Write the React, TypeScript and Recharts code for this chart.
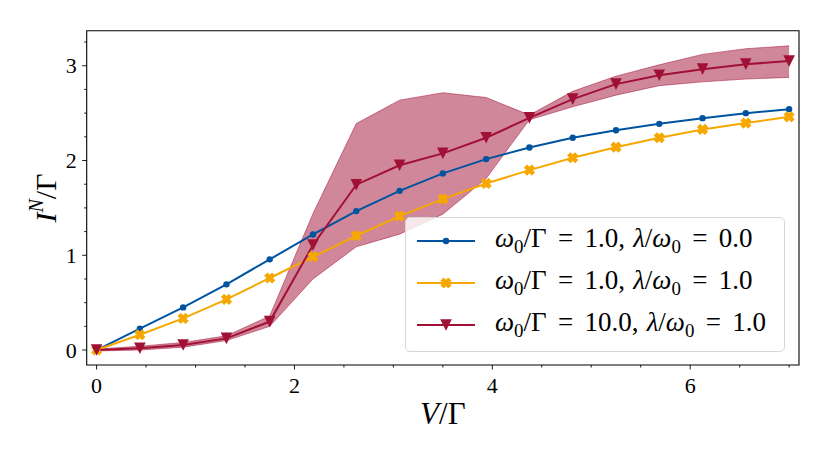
import React from 'react';
import { ComposedChart, Line, Area, XAxis, YAxis, ReferenceArea, Legend } from 'recharts';

// ---- data ----
const voltages = [0, 0.4375, 0.875, 1.3125, 1.75, 2.1875, 2.625, 3.0625, 3.5, 3.9375, 4.375, 4.8125, 5.25, 5.6875, 6.125, 6.5625, 7];
const currentW1L0 = [0, 0.225, 0.45, 0.693, 0.957, 1.22, 1.466, 1.68, 1.864, 2.015, 2.138, 2.24, 2.32, 2.387, 2.447, 2.5, 2.542];
const currentW1L1 = [0, 0.161, 0.334, 0.535, 0.76, 0.984, 1.206, 1.413, 1.593, 1.758, 1.899, 2.029, 2.141, 2.24, 2.328, 2.395, 2.461];
const currentW10L1 = [0, 0.018, 0.053, 0.123, 0.3, 1.108, 1.745, 1.95, 2.075, 2.24, 2.45, 2.648, 2.806, 2.9, 2.964, 3.017, 3.049];
const bandUpper = [0.01, 0.04, 0.08, 0.15, 0.36, 1.44, 2.39, 2.637, 2.715, 2.665, 2.48, 2.73, 2.89, 3.01, 3.12, 3.18, 3.21];
const bandLower = [-0.01, 0.0, 0.03, 0.1, 0.25, 0.75, 1.09, 1.223, 1.434, 1.81, 2.43, 2.567, 2.69, 2.79, 2.83, 2.86, 2.877];

const xTicks = [0, 0.5, 1, 1.5, 2, 2.5, 3, 3.5, 4, 4.5, 5, 5.5, 6, 6.5, 7];
const xMajor = [0, 2, 4, 6];
const yTicks = [0, 0.25, 0.5, 0.75, 1, 1.25, 1.5, 1.75, 2, 2.25, 2.5, 2.75, 3, 3.25];
const yMajor = [0, 1, 2, 3];
const xDomain = [-0.1, 7.1];
const yDomain = [-0.158, 3.37];

const legendRows = [
  { key: 'a', omega: '1.0', lambda: '0.0', color: '#00549F', marker: 'dot' },
  { key: 'b', omega: '1.0', lambda: '1.0', color: '#F6A800', marker: 'x' },
  { key: 'c', omega: '10.0', lambda: '1.0', color: '#A11035', marker: 'tri' },
];

const BLUE = '#00549F';
const ORANGE = '#F6A800';
const RED = '#A11035';
const SERIF = '"Liberation Serif", "DejaVu Serif", serif';

const data = voltages.map((v, i) => ({
  v,
  a: currentW1L0[i],
  b: currentW1L1[i],
  c: currentW10L1[i],
  band: [bandLower[i], bandUpper[i]],
}));

// ---- marker shapes ----
function xPoints(cx: number, cy: number, a: number, w: number) {
  const base = [
    [-w, -a], [w, -a], [w, -w], [a, -w], [a, w], [w, w],
    [w, a], [-w, a], [-w, w], [-a, w], [-a, -w], [-w, -w],
  ];
  const r = Math.SQRT1_2;
  return base.map(([x, y]) => `${cx + (x - y) * r},${cy + (x + y) * r}`).join(' ');
}
function triPoints(cx: number, cy: number, h: number) {
  return `${cx - h},${cy - h} ${cx + h},${cy - h} ${cx},${cy + h}`;
}

const DotMarker = (p: any) => <circle key={`d${p.index}`} cx={p.cx} cy={p.cy} r={3.2} fill={BLUE} />;
const XMarker = (p: any) => <polygon key={`x${p.index}`} points={xPoints(p.cx, p.cy, 5.6, 2.3)} fill={ORANGE} />;
const TriMarker = (p: any) => <polygon key={`t${p.index}`} points={triPoints(p.cx, p.cy, 5.8)} fill={RED} />;

// ---- ticks ----
const XTick = (p: any) => {
  const { x, y, payload } = p;
  const major = xMajor.includes(payload.value);
  return (
    <g>
      <line x1={x} x2={x} y1={y} y2={y + (major ? 4.5 : 2.5)} stroke="#000" strokeWidth={0.9} />
      {major && (
        <text x={x} y={y + 28} textAnchor="middle" fontSize={22} fontFamily={SERIF} fill="#000">
          {payload.value}
        </text>
      )}
    </g>
  );
};
const YTick = (p: any) => {
  const { x, y, payload } = p;
  const major = yMajor.includes(payload.value);
  return (
    <g>
      <line x1={x} x2={x - (major ? 4.5 : 2.5)} y1={y} y2={y} stroke="#000" strokeWidth={0.9} />
      {major && (
        <text x={x - 10} y={y + 7.5} textAnchor="end" fontSize={22} fontFamily={SERIF} fill="#000">
          {payload.value}
        </text>
      )}
    </g>
  );
};

const XLabel = (p: any) => {
  const vb = p.viewBox || {};
  return (
    <text x={vb.x + vb.width / 2} y={vb.y + 59} textAnchor="middle" fontSize={31} fontFamily={SERIF} fill="#000">
      <tspan fontStyle="italic">V</tspan>
      <tspan>/Γ</tspan>
    </text>
  );
};
const YLabel = () => {
  const cx = 56;
  const cy = 198;
  return (
    <g transform={`translate(${cx}, ${cy}) rotate(-90)`}>
      <text x={0} y={0} textAnchor="middle" fontSize={30} fontFamily={SERIF} fill="#000">
        <tspan fontStyle="italic">I</tspan>
        <tspan fontStyle="italic" fontSize={20} dy={-13}>N</tspan>
        <tspan dy={13}>/Γ</tspan>
      </text>
    </g>
  );
};

// ---- legend ----
const LegendSample = ({ color, marker }: { color: string; marker: string }) => (
  <svg width={70} height={24} style={{ flex: 'none' }}>
    <line x1={11} x2={69} y1={12} y2={12} stroke={color} strokeWidth={2} />
    {marker === 'dot' && <circle cx={40} cy={12} r={3.2} fill={color} />}
    {marker === 'x' && <polygon points={xPoints(40, 12, 5.6, 2.3)} fill={color} />}
    {marker === 'tri' && <polygon points={triPoints(40, 12, 5.8)} fill={color} />}
  </svg>
);

const sub = { fontSize: '0.7em', verticalAlign: '-0.3em', fontStyle: 'normal' } as const;
const eq = { display: 'inline-block', margin: '0 0.42em' } as const;

const LegendBox = () => (
  <div
    style={{
      width: 380,
      height: 135,
      boxSizing: 'border-box',
      border: '1px solid #d6d6d6',
      borderRadius: 5,
      background: 'rgba(255,255,255,0.8)',
      fontFamily: SERIF,
      fontSize: 27,
      color: '#000',
      paddingTop: 2,
    }}
  >
    {legendRows.map((r) => (
      <div key={r.key} style={{ display: 'flex', alignItems: 'center', height: 42, whiteSpace: 'pre' }}>
        <LegendSample color={r.color} marker={r.marker} />
        <span style={{ marginLeft: 19, lineHeight: 1, fontFamily: SERIF }}>
          <i>ω</i>
          <span style={sub}>0</span>
          {'/Γ'}
          <span style={eq}>=</span>
          {r.omega}
          <span style={{ marginRight: '0.3em' }}>,</span>
          <i>λ</i>
          {'/'}
          <i>ω</i>
          <span style={sub}>0</span>
          <span style={eq}>=</span>
          {r.lambda}
        </span>
      </div>
    ))}
  </div>
);

export default function App() {
  return (
    <div style={{ position: 'absolute', left: 0, top: 0, width: 830, height: 461, background: '#fff' }}>
      <ComposedChart
        width={830}
        height={461}
        data={data}
        margin={{ top: 30.7, right: 31, bottom: 36, left: 26.7 }}
      >
        <XAxis
          dataKey="v"
          type="number"
          domain={xDomain}
          ticks={xTicks}
          interval={0}
          allowDataOverflow
          axisLine={false}
          tickLine={false}
          tickSize={0}
          tickMargin={0}
          tick={<XTick />}
          height={60}
          label={<XLabel />}
        />
        <YAxis
          type="number"
          domain={yDomain}
          ticks={yTicks}
          interval={0}
          allowDataOverflow
          axisLine={false}
          tickLine={false}
          tickSize={0}
          tickMargin={0}
          tick={<YTick />}
          width={60}
          label={<YLabel />}
        />
        <Area
          dataKey="band"
          type="linear"
          fill={RED}
          fillOpacity={0.5}
          stroke={RED}
          strokeOpacity={0.5}
          strokeWidth={1}
          dot={false}
          activeDot={false}
          isAnimationActive={false}
        />
        <Line dataKey="a" type="linear" stroke={BLUE} strokeWidth={2} dot={DotMarker} activeDot={false} isAnimationActive={false} />
        <Line dataKey="b" type="linear" stroke={ORANGE} strokeWidth={2} dot={XMarker} activeDot={false} isAnimationActive={false} />
        <Line dataKey="c" type="linear" stroke={RED} strokeWidth={2} dot={TriMarker} activeDot={false} isAnimationActive={false} />
        <ReferenceArea
          x1={xDomain[0]}
          x2={xDomain[1]}
          y1={yDomain[0]}
          y2={yDomain[1]}
          fill="none"
          stroke="#000"
          strokeWidth={1.1}
          ifOverflow="visible"
        />
        <Legend
          layout="vertical"
          align="center"
          verticalAlign="middle"
          content={<LegendBox />}
          wrapperStyle={{ left: 405, top: 217, width: 380, height: 135 }}
        />
      </ComposedChart>
    </div>
  );
}
